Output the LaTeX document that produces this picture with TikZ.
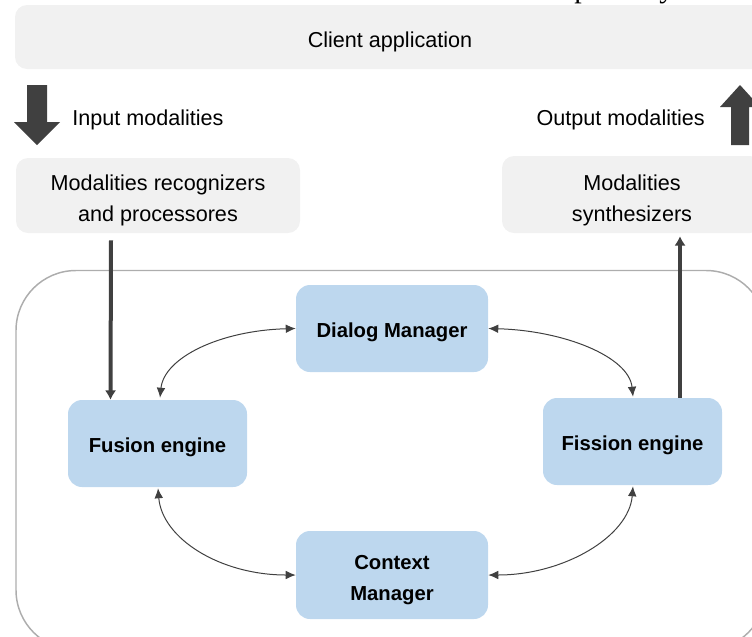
\documentclass[tikz,border=0pt]{standalone}
\usepackage{fontspec}
\setmainfont{Liberation Sans}
\newfontfamily\serifcut{Liberation Serif}
\usetikzlibrary{calc,arrows.meta}

\definecolor{panelgray}{HTML}{F1F1F1}
\definecolor{engineblue}{HTML}{BDD7EE}
\definecolor{inkdark}{HTML}{404040}
\definecolor{framegray}{HTML}{ADADAD}

\begin{document}
\begin{tikzpicture}[x=0.75pt,y=-0.75pt,
  every node/.style={text=black, font=\fontsize{16.2}{23.25}\selectfont},
  graybox/.style={fill=panelgray, rounded corners=9pt, inner sep=0pt},
  enginebox/.style={fill=engineblue, rounded corners=10.5pt, inner sep=0pt, minimum height=65.25pt},
  boxtext/.style={align=center, inner sep=0pt},
  enginetext/.style={align=center, inner sep=0pt, font=\fontsize{15.2}{23.25}\selectfont\bfseries},
  twoway/.style={draw=inkdark, line width=0.75pt,
    {Latex[length=7.5pt,width=6.5pt]}-{Latex[length=7.5pt,width=6.5pt]}},
  feed/.style={draw=inkdark, line width=3pt, -{Latex[length=7pt,width=8.5pt]}},
  blockarrow/.style={fill=inkdark},
  caption/.style={inner sep=0pt},
]
\useasboundingbox (0,0) rectangle (752,636);
\clip (0,0) rectangle (752,636);

% descenders of the text line above the figure
\node[font=\serifcut\fontsize{22.5}{22.5}\selectfont, anchor=base west, inner sep=0pt] (cutp) at (574,-2.5) {p};
\node[font=\serifcut\fontsize{22.5}{22.5}\selectfont, anchor=base west, inner sep=0pt] (cuty) at (659,-2.5) {y};

% client application bar
\node[graybox, minimum width=562.5pt, minimum height=48pt] (client) at (390,37) {};
\node[boxtext] (clienttext) at ($(client)+(0,4.5)$) {Client application};

% input / output block arrows with their labels
\fill[blockarrow] (27,85) -- (47,85) -- (47,122) -- (60,122) -- (37,145) -- (14,122) -- (27,122) -- cycle;
\node[caption, anchor=west] (inlabel) at (72,119.5) {Input modalities};
\fill[blockarrow] (731,145) -- (749,145) -- (749,107) -- (760,107) -- (740,85) -- (720,107) -- (731,107) -- cycle;
\node[caption, anchor=east] (outlabel) at (705,119.5) {Output modalities};

% recognizers and synthesizers
\node[graybox, minimum width=213pt, minimum height=56.25pt] (recog) at (158,195.5) {};
\node[boxtext] (recogtext) at ($(recog)+(0,4.5)$) {Modalities recognizers\\and processores};
\node[graybox, minimum width=195pt, minimum height=57.75pt] (synth) at (632,194.5) {};
\node[boxtext] (synthtext) at ($(synth)+(0,5.5)$) {Modalities\\synthesizers};

% multimodal system frame
\draw[framegray, line width=1.1pt, rounded corners=45pt] (16,270.5) rectangle (766,650);

% engines and managers
\node[enginebox, minimum width=144pt] (dialog) at (392,328.5) {};
\node[enginetext] (dialogtext) at ($(dialog)+(0,4)$) {Dialog Manager};
\node[enginebox, minimum width=134.25pt] (fusion) at (157.5,443.5) {};
\node[enginetext] (fusiontext) at ($(fusion)+(0,4)$) {Fusion engine};
\node[enginebox, minimum width=134.25pt] (fission) at (632.5,441.5) {};
\node[enginetext] (fissiontext) at ($(fission)+(0,4)$) {Fission engine};
\node[enginebox, minimum width=144pt, minimum height=66pt] (context) at (392,575) {};
\node[enginetext] (contexttext) at ($(context)+(0,5)$) {Context\\Manager};

% data flow in and out of the system
\draw[feed] ($(recog.south)+(-47,7)$) -- ($(fusion.north)+(-47,0)$);
\draw[feed] ($(fission.north)+(47.5,0)$) -- ($(synth.south)+(48,3)$);

% exchanges between the components
\draw[twoway] ($(fusion.north)+(2.5,-2)$) .. controls +(4,-40) and +(-76,2) .. (dialog.west);
\draw[twoway] (dialog.east) .. controls +(76,2) and +(-4,-40) .. ($(fission.north)+(0.5,-1)$);
\draw[twoway] ($(fusion.south)+(0.5,1)$) .. controls +(4,50) and +(-76,0) .. (context.west);
\draw[twoway] (context.east) .. controls +(76,0) and +(-4,50) .. ($(fission.south)+(0.5,1)$);
\end{tikzpicture}
\end{document}
